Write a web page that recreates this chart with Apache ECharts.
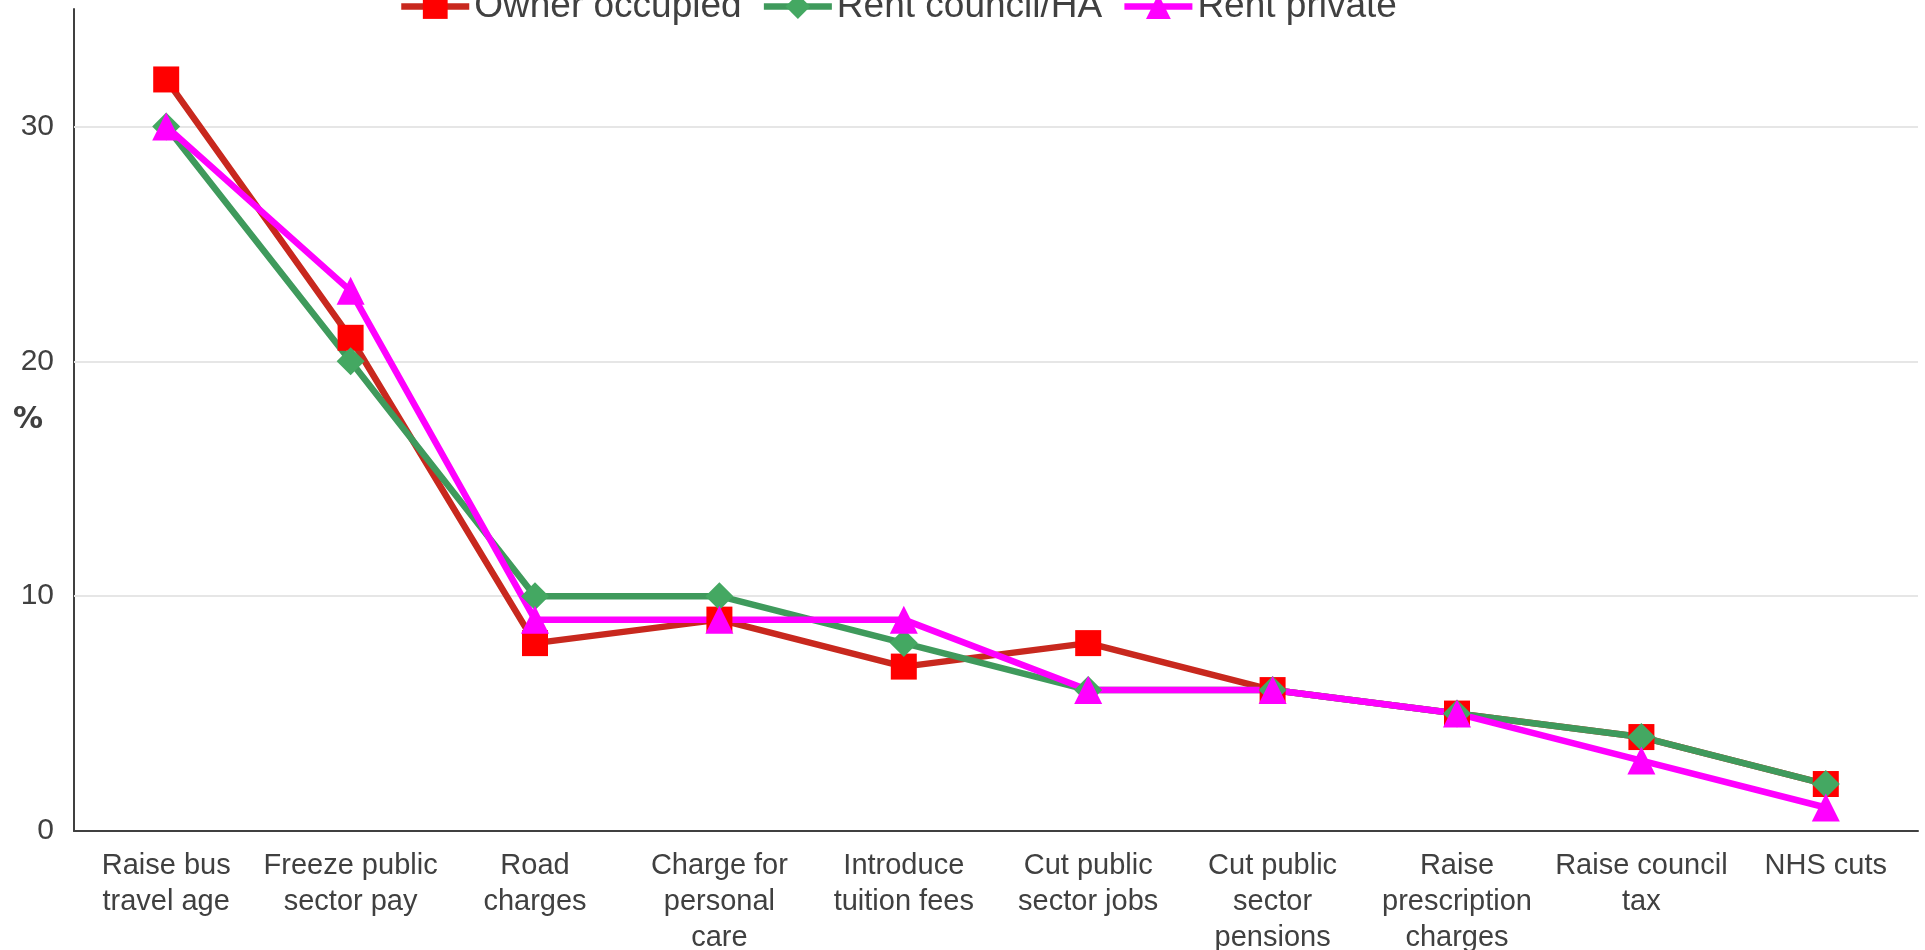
<!DOCTYPE html>
<html>
<head>
<meta charset="utf-8">
<title>Housing tenure chart</title>
<script src="https://cdn.jsdelivr.net/npm/echarts@6/dist/echarts.min.js"></script>
<style>
    html, body { margin: 0; padding: 0; background: #fff; }
    #chart { width: 1925px; height: 950px; }
</style>
</head>
<body>
<div id="chart"></div>
<script>
    'use strict';

    // categories (line breaks as in the picture)
    var categories = [
        'Raise bus\ntravel age',
        'Freeze public\nsector pay',
        'Road\ncharges',
        'Charge for\npersonal\ncare',
        'Introduce\ntuition fees',
        'Cut public\nsector jobs',
        'Cut public\nsector\npensions',
        'Raise\nprescription\ncharges',
        'Raise council\ntax',
        'NHS cuts'
    ];
    var seriesNames = ['Owner occupied', 'Rent council/HA', 'Rent private'];
    var ownerOccupied = [32, 21, 8, 9, 7, 8, 6, 5, 4, 2];
    var rentCouncil = [30, 20, 10, 10, 8, 6, 6, 5, 4, 2];
    var rentPrivate = [30, 23, 9, 9, 9, 6, 6, 5, 3, 1];
    // horizontal grid lines (no line at the top of the axis)
    var gridValues = [10, 20, 30];

    var font = '"Liberation Sans", Arial, sans-serif';

    function makeSeries(name, data, symbol, lineColor, markColor, size) {
        return {
            name: name,
            type: 'line',
            data: data,
            symbol: symbol,
            symbolSize: size,
            showAllSymbol: true,
            lineStyle: { color: lineColor, width: 6.5 },
            itemStyle: { color: markColor },
            emphasis: { disabled: true },
            animation: false,
            z: 3
        };
    }

    var series = [
        makeSeries(seriesNames[0], ownerOccupied, 'rect', '#c8281e', '#ff0000', 26),
        makeSeries(seriesNames[1], rentCouncil, 'diamond', '#3f9a5c', '#44a862', 28),
        makeSeries(seriesNames[2], rentPrivate, 'triangle', '#ff00ff', '#ff00ff', 28)
    ];
    // grid lines drawn as a mark line under the series
    series[0].markLine = {
        silent: true,
        symbol: 'none',
        label: { show: false },
        animation: false,
        z: 1,
        lineStyle: { color: '#e6e6e6', width: 2, type: 'solid' },
        data: gridValues.map(function (v) { return { yAxis: v }; })
    };

    var chart = echarts.init(document.getElementById('chart'));
    var option = {
        backgroundColor: '#ffffff',
        legend: {
            left: 393,
            top: -17,
            itemWidth: 68,
            itemHeight: 31,
            itemGap: 19,
            lineStyle: { width: 6.5 },
            textStyle: { fontFamily: font, fontSize: 37, color: '#404040' },
            data: seriesNames
        },
        grid: { left: 74, right: 7, top: 9, bottom: 119, outerBoundsMode: 'none', containLabel: false },
        xAxis: {
            type: 'category',
            data: categories,
            boundaryGap: true,
            z: 4,
            axisLine: { lineStyle: { color: '#404040', width: 2 } },
            axisTick: { show: false },
            axisLabel: {
                interval: 0,
                margin: 17,
                fontFamily: font,
                fontSize: 29,
                lineHeight: 36,
                color: '#404040'
            }
        },
        yAxis: {
            type: 'value',
            min: 0,
            max: 35,
            interval: 10,
            name: '%',
            nameLocation: 'middle',
            nameRotate: 0,
            nameGap: 31,
            nameMoveOverlap: false,
            nameTextStyle: { fontFamily: '"DejaVu Sans", sans-serif', fontSize: 30, fontWeight: 'bold', color: '#404040' },
            axisLine: { show: true, lineStyle: { color: '#404040', width: 2 } },
            axisTick: { show: false },
            axisLabel: { margin: 20, fontFamily: font, fontSize: 30, color: '#404040', showMaxLabel: false },
            splitLine: { show: false }
        },
        series: series
    };
    chart.setOption(option);
</script>
</body>
</html>
